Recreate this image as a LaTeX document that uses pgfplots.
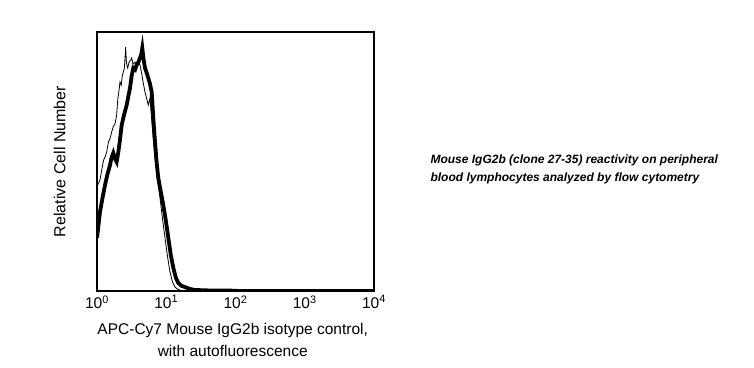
\documentclass[border=0pt]{standalone}
\usepackage{pgfplots}
\pgfplotsset{compat=1.18}
\usepackage{fontspec}
\setmainfont{Liberation Sans}
\begin{document}
\begin{tikzpicture}[x=1bp,y=1bp]
\useasboundingbox (0,0) rectangle (754,367);
\begin{axis}[
  at={(97bp,76bp)}, anchor=south west, scale only axis,
  width=277bp, height=259bp,
  xmin=0, xmax=4, ymin=0, ymax=100,
  xtick={0,1,2,3,4},
  xticklabels={10\textsuperscript{0},10\textsuperscript{1},10\textsuperscript{2},10\textsuperscript{3},10\textsuperscript{4}},
  ytick=\empty,
  major tick length=0pt,
  axis line style={line width=1.6bp},
  xticklabel style={font=\fontsize{15.5bp}{17bp}\selectfont, yshift=-1bp},
  xlabel={APC-Cy7 Mouse IgG2b isotype control,\\with autofluorescence},
  xlabel style={at={(axis description cs:0.49,-0.19)}, anchor=center, align=center, font=\fontsize{15.5bp}{22bp}\selectfont},
  ylabel={Relative Cell Number},
  ylabel style={at={(axis description cs:-0.135,0.5)}, anchor=center, font=\fontsize{16bp}{18bp}\selectfont},
  clip=true,
]
% thin curve
\addplot[black, line width=0.8bp] coordinates {
(0.000,40.3) (0.020,41.5) (0.043,42.9) (0.070,47.0) (0.095,50.5) (0.120,52.0) (0.140,53.7)
(0.165,57.5) (0.190,59.0) (0.212,61.4) (0.235,63.5) (0.260,64.5) (0.284,68.0)
(0.300,74.0) (0.316,77.0) (0.332,80.7) (0.350,79.5) (0.365,83.0) (0.380,84.6)
(0.395,86.0) (0.405,90.0) (0.414,94.2) (0.425,88.0) (0.443,86.1) (0.465,88.5)
(0.485,89.0) (0.501,90.0) (0.520,87.5) (0.549,88.4) (0.580,86.5) (0.600,88.0)
(0.621,87.3) (0.645,84.0) (0.670,80.0) (0.693,76.8) (0.715,74.5) (0.741,71.8)
(0.765,74.5) (0.790,66.0) (0.815,58.0) (0.838,51.4) (0.875,43.0) (0.910,35.9)
(0.945,28.0) (0.982,20.5) (1.020,13.0) (1.054,7.3) (1.090,3.5) (1.126,1.5)
(1.170,0.6) (1.223,0.2) (1.350,0.1) (1.490,0.0) (4.0,0.0)
};
% thick curve
\addplot[black, line width=3.8bp] coordinates {
(0.000,20.5) (0.020,25.0) (0.043,30.5) (0.080,36.0) (0.116,40.9) (0.150,45.0)
(0.188,48.6) (0.210,51.5) (0.235,53.3) (0.260,51.0) (0.284,49.8) (0.308,53.7)
(0.330,58.0) (0.357,64.1) (0.390,68.0) (0.429,71.8) (0.455,75.5) (0.477,78.4)
(0.500,83.0) (0.524,86.1) (0.550,85.5) (0.573,87.3) (0.600,88.5) (0.621,90.0)
(0.640,91.5) (0.654,93.8) (0.670,90.0) (0.693,86.1) (0.720,84.0) (0.741,82.2)
(0.765,80.0) (0.790,76.8) (0.815,66.0) (0.838,57.5) (0.860,50.0) (0.885,43.6)
(0.920,38.5) (0.957,33.2) (0.995,27.0) (1.030,20.5) (1.065,14.0) (1.102,8.9)
(1.140,5.0) (1.174,3.1) (1.220,2.0) (1.271,1.5) (1.340,0.8) (1.415,0.4)
(1.632,0.2) (1.892,0.2) (2.060,0.0) (4.0,0.0)
};
\end{axis}
\node[anchor=west, align=left, font=\fontsize{12bp}{18bp}\selectfont\bfseries\itshape] at (427,198)
  {Mouse IgG2b (clone 27-35) reactivity on peripheral\\blood lymphocytes analyzed by flow cytometry};
\end{tikzpicture}
\end{document}
